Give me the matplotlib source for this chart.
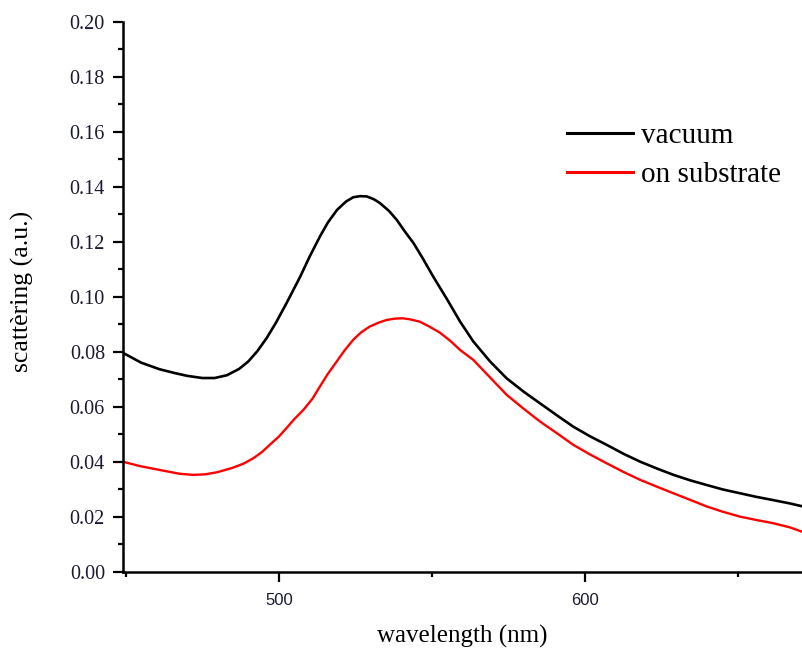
import matplotlib
matplotlib.use('Agg')
import matplotlib.pyplot as plt
from matplotlib.ticker import MultipleLocator, FormatStrFormatter

# values: wavelength (nm) -> scattering (a.u.)
wl_vacuum = [449, 455, 461, 466, 470, 475, 479, 483, 487, 490, 493, 496, 499, 502.5,
             507, 510, 513.4, 516, 519, 522, 524.3, 526.5, 528.7, 531, 533, 536, 538.5,
             541, 544, 547, 550.4, 555, 559.2, 563.5, 569, 574.4, 580, 585.3, 591, 596.2,
             601.5, 607.1, 612.5, 618, 623.5, 628.9, 634.4, 639.8, 645, 650.7, 656, 661.6,
             667, 672]
vacuum = [0.0797, 0.0761, 0.0737, 0.0723, 0.0713, 0.0705, 0.0705, 0.0715, 0.0738, 0.0765,
          0.0803, 0.0850, 0.0905, 0.0977, 0.1074, 0.1145, 0.1219, 0.1270, 0.1316, 0.1347,
          0.1362, 0.1366, 0.1365, 0.1355, 0.1341, 0.1312, 0.1280, 0.1240, 0.1195, 0.1140,
          0.1074, 0.0990, 0.0910, 0.0838, 0.0765, 0.0704, 0.0655, 0.0613, 0.0568, 0.0528,
          0.0494, 0.0462, 0.0430, 0.0401, 0.0376, 0.0353, 0.0333, 0.0316, 0.0300, 0.0286,
          0.0273, 0.0261, 0.0249, 0.0236]

wl_substrate = [449, 454.6, 461, 467.6, 472, 476, 480, 485, 488.5, 491.6, 494.5, 497, 500,
                502.5, 505, 508, 511, 513.4, 516, 518.9, 521.5, 524.3, 527, 529.7, 532.5,
                535.2, 538, 540.6, 543, 546, 549, 552.6, 556, 559.2, 563.5, 569, 574.4, 580,
                585.3, 591, 596.2, 601.5, 607.1, 612.5, 618, 623.5, 628.9, 634.4, 639.8, 645,
                650.7, 656, 661.6, 667, 672]
substrate = [0.0401, 0.0385, 0.0371, 0.0357, 0.0353, 0.0355, 0.0363, 0.0379, 0.0394, 0.0413,
             0.0436, 0.0462, 0.0492, 0.0523, 0.0555, 0.0589, 0.0630, 0.0674, 0.0720, 0.0765,
             0.0806, 0.0844, 0.0872, 0.0892, 0.0906, 0.0916, 0.0921, 0.0922, 0.0918, 0.0910,
             0.0893, 0.0870, 0.0840, 0.0807, 0.0771, 0.0707, 0.0644, 0.0593, 0.0547, 0.0503,
             0.0462, 0.0428, 0.0395, 0.0364, 0.0335, 0.0310, 0.0286, 0.0262, 0.0238, 0.0219,
             0.0201, 0.0189, 0.0177, 0.0162, 0.0142]
series_names = ['vacuum', 'on substrate']

serif = ['Liberation Serif', 'DejaVu Serif']

fig = plt.figure(figsize=(8.03, 6.52), dpi=100)
ax = fig.add_axes([0.1532, 0.1227, 0.8468, 0.844])

ax.plot(wl_vacuum, vacuum, color='black', lw=1.9, label=series_names[0])
ax.plot(wl_substrate, substrate, color='red', lw=1.7, label=series_names[1])

ax.set_xlim(449.1, 671.2)
ax.set_ylim(0, 0.20)

for s in ['top', 'right']:
    ax.spines[s].set_visible(False)
for s in ['left', 'bottom']:
    ax.spines[s].set_linewidth(1.8)

ax.xaxis.set_major_locator(MultipleLocator(100))
ax.xaxis.set_minor_locator(MultipleLocator(50))
ax.yaxis.set_major_locator(MultipleLocator(0.02))
ax.yaxis.set_minor_locator(MultipleLocator(0.01))
ax.yaxis.set_major_formatter(FormatStrFormatter('%.2f'))

ax.tick_params(which='major', length=7, width=1.6, direction='out')
ax.tick_params(which='minor', length=3.8, width=1.6, direction='out')
ax.tick_params(axis='x', which='major', pad=8)
ax.tick_params(axis='y', which='major', pad=6)
for t in ax.get_xticklabels():
    t.set_fontfamily(['Liberation Sans', 'DejaVu Sans'])
    t.set_fontsize(12)
    t.set_color('#1a1a33')
for t in ax.get_yticklabels():
    t.set_fontfamily(serif)
    t.set_fontsize(14.5)
    t.set_color('#1a1a33')

fig.text(462 / 803, 1 - 636 / 652, 'wavelength (nm)', ha='center', va='center',
         fontsize=18, family=serif)
fig.text(22 / 803, 1 - 291 / 652, 'scattèring (a.u.)', ha='center', va='center',
         rotation=90, fontsize=18.5, family=serif)

leg = ax.legend(loc='upper left', bbox_to_anchor=(567 / 803, 1 - 123 / 652),
                bbox_transform=fig.transFigure, frameon=False,
                prop={'family': serif, 'size': 21}, handlelength=2.25,
                handletextpad=0.28, borderpad=0, borderaxespad=0, labelspacing=0.42)
for line in leg.get_lines():
    line.set_linewidth(2.2)

fig.savefig('out.png', dpi=100)
